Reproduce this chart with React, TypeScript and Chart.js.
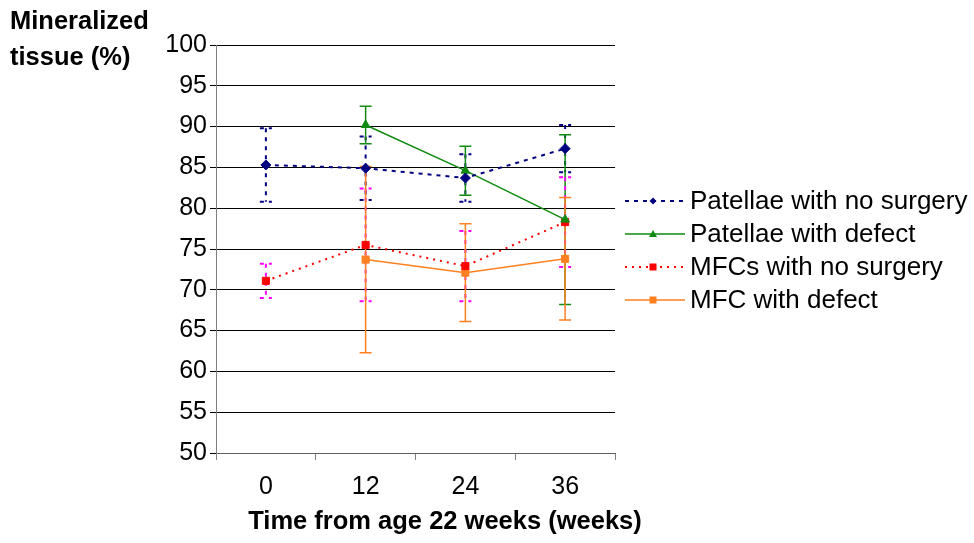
import { useEffect, useRef } from 'react';
import { Chart, registerables } from 'chart.js';

Chart.register(...registerables);

const categories = ['0', '12', '24', '36'];
const seriesNames = ['Patellae with no surgery', 'Patellae with defect', 'MFCs with no surgery', 'MFC with defect'];
const patNoSurgery = [85.3, 84.9, 83.7, 87.3];
const patNoSurgeryErr = [4.5, 3.9, 2.9, 2.9];
const patDefect = [null, 90.2, 84.6, 78.6];
const patDefectErr = [null, 2.3, 3.0, 10.4];
const mfcNoSurgery = [71.1, 75.5, 72.9, 78.3];
const mfcNoSurgeryErr = [2.1, 6.9, 4.3, 5.5];
const mfcDefect = [null, 73.7, 72.1, 73.8];
const mfcDefectErr = [null, 11.4, 6.0, 7.5];
const yMin = 50;
const yMax = 100;
const yStep = 5;

const FONT = '"Liberation Sans", Arial, Helvetica, sans-serif';
const NAVY = '#000080';
const GREEN = '#108A10';
const RED = '#FF0000';
const ORANGE = '#FF8020';
const MAGENTA = '#FF00FF';

const errors = [patNoSurgeryErr, patDefectErr, mfcNoSurgeryErr, mfcDefectErr];
const errStyles = [
  { color: NAVY, dash: [4, 5], width: 2 },
  { color: GREEN, dash: [], width: 1.5 },
  { color: MAGENTA, dash: [4, 5], width: 2 },
  { color: ORANGE, dash: [], width: 1.5 },
];

const errorBarPlugin = {
  id: 'errorBars',
  beforeDatasetsDraw(chart: any) {
    const ctx = chart.ctx;
    const yScale = chart.scales.y;
    chart.data.datasets.forEach((ds: any, i: number) => {
      const meta = chart.getDatasetMeta(i);
      const st = errStyles[i];
      ds.data.forEach((v: number | null, j: number) => {
        const e = errors[i][j];
        if (v == null || e == null) return;
        const x = meta.data[j].x;
        const yt = yScale.getPixelForValue(v + e);
        const yb = yScale.getPixelForValue(v - e);
        ctx.save();
        ctx.strokeStyle = st.color;
        ctx.lineWidth = st.width;
        ctx.setLineDash(st.dash);
        ctx.beginPath();
        ctx.moveTo(x, yt);
        ctx.lineTo(x, yb);
        ctx.moveTo(x - 6, yt);
        ctx.lineTo(x + 6, yt);
        ctx.moveTo(x - 6, yb);
        ctx.lineTo(x + 6, yb);
        ctx.stroke();
        ctx.restore();
      });
    });
  },
};

const legendItems = [
  { color: NAVY, dash: '4 5', width: 2, marker: 'diamond' },
  { color: GREEN, dash: '', width: 1.5, marker: 'triangle' },
  { color: RED, dash: '2 5', width: 2, marker: 'square' },
  { color: ORANGE, dash: '', width: 1.5, marker: 'square' },
];

function Marker({ kind, color }: { kind: string; color: string }) {
  if (kind === 'diamond') return <polygon points="28,2.5 31.5,6 28,9.5 24.5,6" fill={color} />;
  if (kind === 'triangle') return <polygon points="28,2 32,9 24,9" fill={color} />;
  return <rect x={24.5} y={2.5} width={7} height={7} fill={color} />;
}

export default function App() {
  const ref = useRef<HTMLCanvasElement>(null);
  useEffect(() => {
    const chart = new Chart(ref.current as HTMLCanvasElement, {
      type: 'line',
      data: {
        labels: categories,
        datasets: [
          {
            label: seriesNames[0], data: patNoSurgery, borderColor: NAVY, backgroundColor: NAVY,
            borderWidth: 2, borderDash: [4, 5], pointStyle: 'rectRot', pointRadius: 5, pointBorderWidth: 1,
          },
          {
            label: seriesNames[1], data: patDefect, borderColor: GREEN, backgroundColor: GREEN,
            borderWidth: 1.5, pointStyle: 'triangle', pointRadius: 5, pointBorderWidth: 1,
          },
          {
            label: seriesNames[2], data: mfcNoSurgery, borderColor: RED, backgroundColor: RED,
            borderWidth: 2, borderDash: [2, 5], pointStyle: 'rect', pointRadius: 5, pointBorderWidth: 1,
          },
          {
            label: seriesNames[3], data: mfcDefect, borderColor: ORANGE, backgroundColor: ORANGE,
            borderWidth: 1.5, pointStyle: 'rect', pointRadius: 5, pointBorderWidth: 1,
          },
        ] as any,
      },
      options: {
        responsive: false,
        animation: false,
        devicePixelRatio: 1,
        layout: { padding: { left: 0, right: 359, top: 45, bottom: 0 } },
        plugins: { legend: { display: false }, tooltip: { enabled: false } },
        scales: {
          x: {
            type: 'category',
            offset: true,
            grid: { drawOnChartArea: false, offset: true, tickLength: 7, color: '#808080' },
            border: { color: '#606060', width: 1 },
            ticks: { color: '#000', font: { family: FONT, size: 25 }, padding: 12 },
            afterFit: (s: any) => { s.height = 90; },
          },
          y: {
            min: yMin, max: yMax,
            ticks: { stepSize: yStep, color: '#000', font: { family: FONT, size: 25 }, padding: 3 },
            grid: { color: '#000', lineWidth: 1, tickLength: 6 },
            border: { color: '#808080', width: 1 },
            afterFit: (s: any) => { s.width = 216; },
          },
        },
      } as any,
      plugins: [errorBarPlugin],
    });
    return () => chart.destroy();
  }, []);

  return (
    <div style={{ position: 'fixed', left: 0, top: 0, width: 974, height: 543, background: '#fff', fontFamily: FONT, color: '#000' }}>
      <canvas ref={ref} width={974} height={543} style={{ position: 'absolute', left: 0, top: 0, width: 974, height: 543 }} />
      <div style={{ position: 'absolute', left: 10, top: 2, fontSize: 25.5, fontWeight: 'bold', lineHeight: '36px' }}>
        <div>Mineralized</div>
        <div>tissue (%)</div>
      </div>
      <div style={{ position: 'absolute', left: 245, top: 504, width: 400, textAlign: 'center', fontSize: 25.5, fontWeight: 'bold', lineHeight: '32px', whiteSpace: 'nowrap' }}>
        Time from age 22 weeks (weeks)
      </div>
      <div style={{ position: 'absolute', left: 625, top: 184 }}>
        {legendItems.map((it, i) => (
          <div key={i} style={{ display: 'flex', alignItems: 'center', height: 33 }}>
            <svg width={60} height={12} style={{ marginRight: 5 }}>
              <line x1={0} y1={6} x2={60} y2={6} stroke={it.color} strokeWidth={it.width} strokeDasharray={it.dash || undefined} />
              <Marker kind={it.marker} color={it.color} />
            </svg>
            <span style={{ fontSize: 26, lineHeight: '33px', whiteSpace: 'nowrap' }}>{seriesNames[i]}</span>
          </div>
        ))}
      </div>
    </div>
  );
}
